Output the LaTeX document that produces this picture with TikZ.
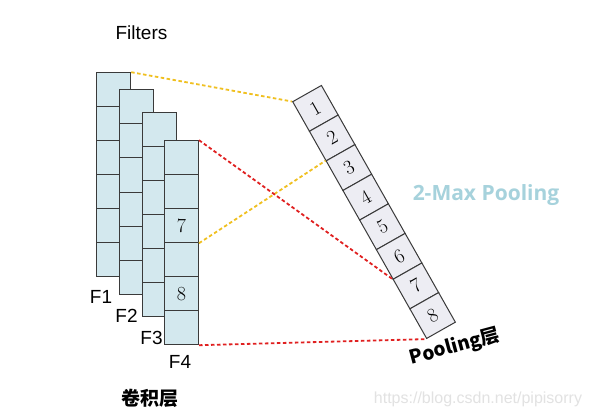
\documentclass[tikz,border=0pt]{standalone}
\usepackage{fontspec}
\setmainfont{Latin Modern Roman}
\newfontfamily\arial{Liberation Sans}
\newfontfamily\cjk{Noto Sans CJK SC}
\newfontfamily\opensans{Open Sans}
\definecolor{filtfill}{HTML}{D3E8EE}
\definecolor{poolfill}{HTML}{EDEDF3}
\definecolor{edgec}{HTML}{3A3A3A}
\definecolor{yel}{HTML}{F0C020}
\definecolor{redl}{HTML}{E02020}
\definecolor{maxc}{HTML}{A6D2DC}
\definecolor{wmark}{HTML}{E2E2E2}
\tikzset{
  fcell/.style={draw=edgec, fill=filtfill, line width=1pt, minimum width=34pt, minimum height=34pt, inner sep=0pt, font=\fontsize{20}{20}\selectfont},
  pcell/.style={draw=edgec, fill=poolfill, line width=1pt, minimum width=33pt, minimum height=34pt, inner sep=0pt, font=\fontsize{20}{20}\selectfont},
  flabel/.style={font=\arial\fontsize{19}{19}\selectfont, inner sep=0pt},
  yline/.style={draw=yel, line width=1.8pt, dash pattern=on 3.5pt off 2.5pt},
  rline/.style={draw=redl, line width=1.8pt, dash pattern=on 3.5pt off 2.5pt}
}
\begin{document}
\begin{tikzpicture}[x=1pt,y=-1pt]
\useasboundingbox[fill=white] (0,0) rectangle (589,417);
% Filter columns
\foreach \c/\x/\t in {1/113.7/72.7, 2/136.3/90, 3/159/112.3, 4/181.5/140.7}{
  \foreach \k in {1,...,6}{
    \node[fcell] (f\c c\k) at (\x, {\t + (\k-0.5)*34}) {};
  }
}
\node[fcell, fill=none, draw=none] (n7) at (f4c3) {7};
\node[fcell, fill=none, draw=none] (n8) at (f4c5) {8};
% labels
\node[flabel] (lf1) at (101,297) {F1};
\node[flabel] (lf2) at (126.5,315.5) {F2};
\node[flabel] (lf3) at (151.5,338) {F3};
\node[flabel] (lf4) at (180,361.5) {F4};
\node[flabel] (filters) at (141.5,32.5) {Filters};
\node[font=\cjk\bfseries\fontsize{19}{19}\selectfont, inner sep=0pt] (conv) at (150,398) {卷积层};
% Pooling column
\begin{scope}[shift={(292.7,101.7)}, rotate=29.5, transform shape]
  \foreach \k in {1,...,8}{
    \node[pcell] (p\k) at (16.5, {(\k-0.5)*34}) {\k};
  }
\end{scope}
\node[font=\cjk\bfseries\fontsize{19}{19}\selectfont, inner sep=0pt, rotate=15] (plabel) at (455,347) {Pooling层};
\node[font=\opensans\bfseries\fontsize{21}{21}\selectfont, text=maxc, inner sep=0pt] (maxp) at (486,195) {2-Max Pooling};
\node[font=\arial\fontsize{16}{16}\selectfont, text=wmark, inner sep=0pt] (wm) at (478,399) {https://blog.csdn.net/pipisorry};
% connectors
\draw[yline] (f1c1.north east) -- (p1.north west);
\draw[yline] (f4c3.south east) -- (p3.north west);
\draw[rline] (f4c1.north east) -- (p7.north west);
\draw[rline] (f4c6.south east) -- (p8.south west);
\end{tikzpicture}
\end{document}
